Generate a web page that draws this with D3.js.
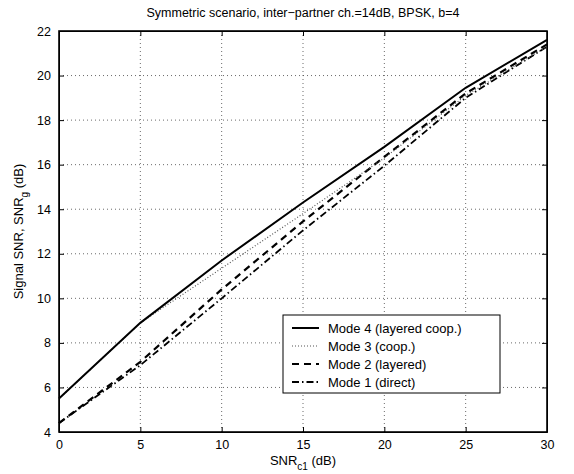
<!DOCTYPE html>
<meta charset="utf-8">
<title>Symmetric scenario</title>
<style>
body { margin:0; background:#fff; }
svg text { font-family: "Liberation Sans", Arial, sans-serif; fill:#000; }
.grid line { stroke:#444; stroke-width:0.8px; stroke-dasharray:1,3; }
.axis path, .axis line { stroke:#000; }
</style>
<body>
<div id="container"></div>
<script src="https://cdn.jsdelivr.net/npm/d3@7"></script>
<script>
// data
var snr = [0, 5, 10, 15, 20, 25, 30];
var mode4 = [5.5, 8.9, 11.7, 14.3, 16.8, 19.45, 21.6];
var mode3 = [5.5, 8.9, 11.35, 13.8, 16.3, 19.1, 21.3];
var mode2 = [4.4, 7.15, 10.4, 13.45, 16.35, 19.2, 21.4];
var mode1 = [4.4, 7.0, 10.0, 13.05, 15.95, 19.0, 21.3];
var xTicks = [0, 5, 10, 15, 20, 25, 30];
var yTicks = [4, 6, 8, 10, 12, 14, 16, 18, 20, 22];
var legendLabels = ["Mode 4 (layered coop.)", "Mode 3 (coop.)", "Mode 2 (layered)", "Mode 1 (direct)"];

var width = 574, height = 474;
var margin = {left: 59, right: 27, top: 31, bottom: 42};

var svg = d3.select("#container").append("svg")
    .attr("width", width)
    .attr("height", height);

var x = d3.scaleLinear().domain([0, 30]).range([margin.left, width - margin.right]);
var y = d3.scaleLinear().domain([4, 22]).range([height - margin.bottom, margin.top]);

// grid
var grid = svg.append("g").attr("class", "grid");
grid.selectAll(".gx").data(xTicks.slice(1, -1)).enter().append("line")
    .attr("x1", d => x(d)).attr("x2", d => x(d))
    .attr("y1", y(4)).attr("y2", y(22));
grid.selectAll(".gy").data(yTicks.slice(1, -1)).enter().append("line")
    .attr("y1", d => y(d)).attr("y2", d => y(d))
    .attr("x1", x(0)).attr("x2", x(30));

// series
var series = [
  {vals: mode4, dash: null, w: 2, col: "#000"},
  {vals: mode3, dash: "1,2", w: 1.2, col: "#555"},
  {vals: mode2, dash: "7,5", w: 2.2, col: "#000"},
  {vals: mode1, dash: "7,3,1.5,3", w: 1.8, col: "#000"}
];

var line = d3.line().x((d, i) => x(snr[i])).y(d => y(d));

// draw back to front so solid sits on top
series.slice().reverse().forEach(function(s) {
  svg.append("path")
     .datum(s.vals)
     .attr("fill", "none")
     .attr("stroke", s.col)
     .attr("stroke-width", s.w)
     .attr("stroke-dasharray", s.dash)
     .attr("d", line);
});

// axes (inside ticks, box)
svg.append("g").attr("class", "axis")
    .attr("transform", "translate(0," + y(4) + ")")
    .call(d3.axisBottom(x).tickValues(xTicks).tickSizeInner(-5).tickSizeOuter(0).tickPadding(8));
svg.append("g").attr("class", "axis")
    .attr("transform", "translate(" + x(0) + ",0)")
    .call(d3.axisLeft(y).tickValues(yTicks).tickSizeInner(-5).tickSizeOuter(0).tickPadding(8));
svg.append("g").attr("class", "axis")
    .attr("transform", "translate(0," + y(22) + ")")
    .call(d3.axisTop(x).tickValues(xTicks).tickSizeInner(-5).tickSizeOuter(0).tickFormat(""));
svg.append("g").attr("class", "axis")
    .attr("transform", "translate(" + x(30) + ",0)")
    .call(d3.axisRight(y).tickValues(yTicks).tickSizeInner(-5).tickSizeOuter(0).tickFormat(""));

svg.selectAll(".axis text").style("font-size", "12.5px");
svg.selectAll(".axis line").attr("stroke-width", 1);

svg.append("rect")
   .attr("x", x(0)).attr("y", y(22))
   .attr("width", x(30) - x(0)).attr("height", y(4) - y(22))
   .attr("fill", "none").attr("stroke", "#000").attr("stroke-width", 1.6);

// title
svg.append("text")
   .attr("x", (x(0) + x(30)) / 2).attr("y", 17)
   .attr("text-anchor", "middle")
   .style("font-size", "12.5px")
   .text("Symmetric scenario, inter\u2212partner ch.=14dB, BPSK, b=4");

// x label
var xl = svg.append("text")
   .attr("x", (x(0) + x(30)) / 2).attr("y", 465)
   .attr("text-anchor", "middle")
   .style("font-size", "13px");
xl.append("tspan").text("SNR");
xl.append("tspan").attr("dy", 5).style("font-size", "10px").text("c1");
xl.append("tspan").attr("dy", -5).text(" (dB)");

// y label
var yl = svg.append("text")
   .attr("transform", "translate(23," + ((y(4) + y(22)) / 2) + ")rotate(-90)")
   .attr("text-anchor", "middle")
   .style("font-size", "13px");
yl.append("tspan").text("Signal SNR, SNR");
yl.append("tspan").attr("dy", 5).style("font-size", "10px").text("g");
yl.append("tspan").attr("dy", -5).text(" (dB)");

// legend
var lg = svg.append("g").attr("transform", "translate(283,315)");
lg.append("rect").attr("width", 217).attr("height", 78)
  .attr("fill", "#fff").attr("stroke", "#000").attr("stroke-width", 1);
legendLabels.forEach(function(t, i) {
  var yy = 13 + i * 18;
  lg.append("line")
    .attr("x1", 9).attr("x2", 36).attr("y1", yy).attr("y2", yy)
    .attr("stroke", series[i].col)
    .attr("stroke-width", series[i].w)
    .attr("stroke-dasharray", series[i].dash);
  lg.append("text").attr("x", 45).attr("y", yy + 4.5)
    .style("font-size", "13px").text(t);
});
</script>
</body>
